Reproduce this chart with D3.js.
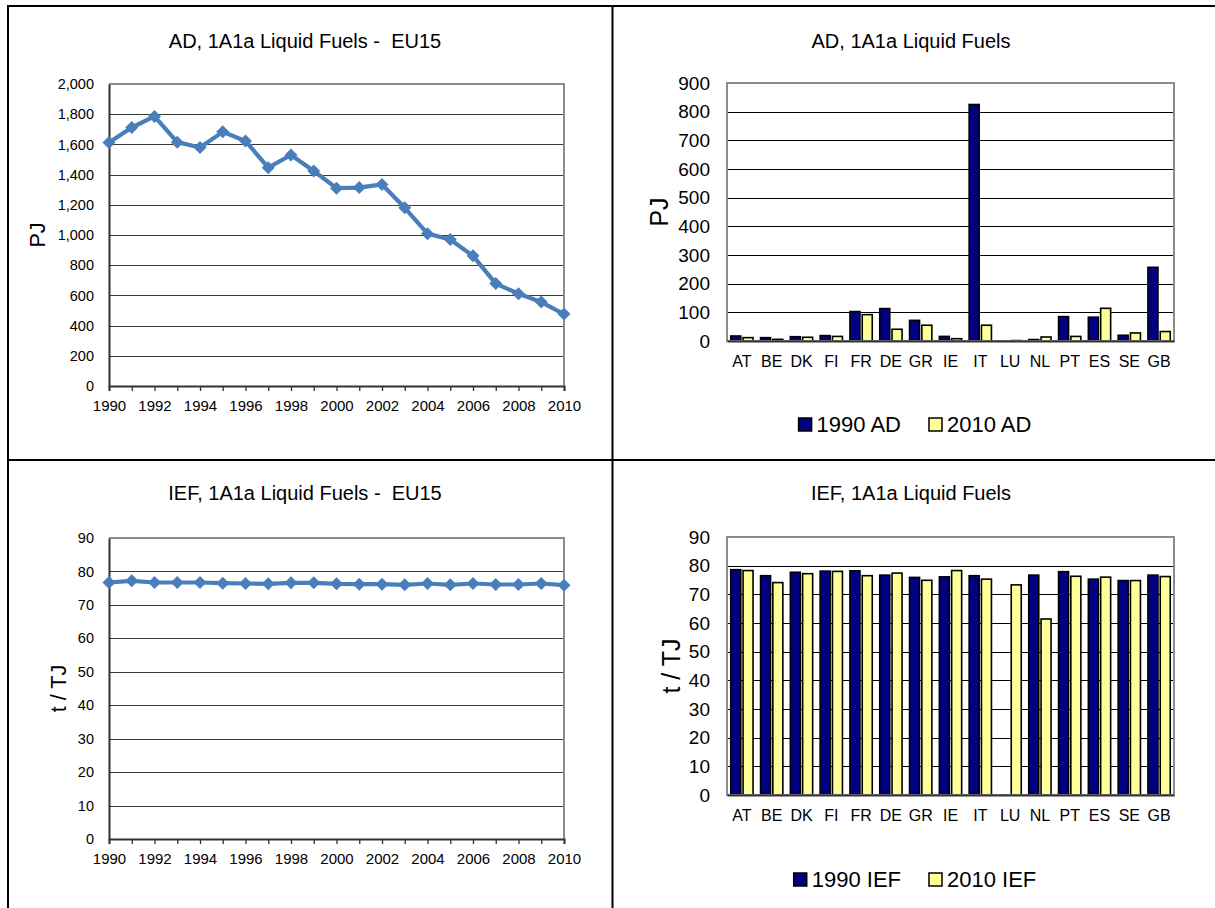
<!DOCTYPE html>
<html>
<head>
<meta charset="utf-8">
<script src="https://cdn.jsdelivr.net/npm/d3@7"></script>
<style>
  html, body { margin: 0; padding: 0; background: #fff; }
  svg { display: block; font-family: "Liberation Sans", Arial, sans-serif; }
</style>
</head>
<body>
<svg id="chart" width="1215" height="908"></svg>
<script>
// ---- Data -------------------------------------------------------------
const years = [1990, 1991, 1992, 1993, 1994, 1995, 1996, 1997, 1998, 1999, 2000,
               2001, 2002, 2003, 2004, 2005, 2006, 2007, 2008, 2009, 2010];

// EU15 activity data, 1A1a liquid fuels (PJ)
const adEu15 = [1612, 1712, 1785, 1615, 1579, 1683, 1623, 1446, 1530, 1424, 1310,
                1314, 1335, 1180, 1009, 970, 862, 678, 611, 556, 476];

// EU15 implied emission factor (t / TJ)
const iefEu15 = [76.7, 77.2, 76.7, 76.7, 76.7, 76.5, 76.4, 76.3, 76.6, 76.6, 76.3,
                 76.2, 76.2, 76.0, 76.4, 76.0, 76.4, 76.1, 76.1, 76.4, 75.9];

const countries = ["AT", "BE", "DK", "FI", "FR", "DE", "GR", "IE", "IT", "LU", "NL", "PT", "ES", "SE", "GB"];

// Member state activity data (PJ); null = not reported
const ad1990 = [17.5, 11.7, 15, 18.7, 102.7, 113, 72, 16, 825, null, 5, 85, 83, 20, 257];
const ad2010 = [11.7, 5.8, 13, 16, 92, 41, 55, 8, 55, 1.5, 14, 16, 114, 28, 33];

// Member state implied emission factors (t / TJ)
const ief1990 = [78.6, 76.5, 77.7, 78.1, 78.2, 76.7, 75.9, 76.1, 76.5, null, 76.7, 77.9, 75.3, 74.8, 76.7];
const ief2010 = [78.3, 74.1, 77.2, 78.0, 76.5, 77.4, 74.9, 78.3, 75.3, 73.3, 61.4, 76.3, 76.0, 74.8, 76.2];

const adTicks = [0, 200, 400, 600, 800, 1000, 1200, 1400, 1600, 1800, 2000];
const iefTicks = [0, 10, 20, 30, 40, 50, 60, 70, 80, 90];
const adBarTicks = [0, 100, 200, 300, 400, 500, 600, 700, 800, 900];

// ---- Styles -----------------------------------------------------------
const LINE_BLUE = "#4A7EBB";
const NAVY = "#000080";
const PALE_YELLOW = "#FFFF99";
const FRAME_GREY = "#8c8c8c";

const svg = d3.select("#chart");

// Table frame around the four panels
const frame = svg.append("g").attr("stroke", "#000").attr("stroke-width", 2);
frame.append("line").attr("x1", 8).attr("x2", 8).attr("y1", 5).attr("y2", 908);
frame.append("line").attr("x1", 7).attr("x2", 1215).attr("y1", 6).attr("y2", 6);
frame.append("line").attr("x1", 612.5).attr("x2", 612.5).attr("y1", 5).attr("y2", 908);
frame.append("line").attr("x1", 7).attr("x2", 1215).attr("y1", 460).attr("y2", 460);

function styleAxisText(axisG, size) {
  axisG.attr("font-family", null).attr("font-size", null);
  axisG.selectAll("text").attr("font-size", size).attr("fill", "#000");
}

function addTitle(g, text, cx, baseline) {
  g.append("text")
    .attr("x", cx).attr("y", baseline)
    .attr("text-anchor", "middle")
    .attr("font-size", 20)
    .attr("xml:space", "preserve")
    .style("white-space", "pre")
    .text(text);
}

function addAxisTitle(g, text, baselineX, cy, size) {
  g.append("text")
    .attr("transform", `translate(${baselineX},${cy}) rotate(-90)`)
    .attr("text-anchor", "middle")
    .attr("font-size", size)
    .text(text);
}

// ---- Line chart panel -------------------------------------------------
function drawLinePanel(cfg) {
  const { box, values, ticks, fmt } = cfg;
  const g = svg.append("g");
  const x = d3.scalePoint().domain(years).range([box.left, box.right]).padding(0);
  const y = d3.scaleLinear().domain([0, d3.max(ticks)]).range([box.bottom, box.top]);

  // horizontal gridlines
  g.append("g").selectAll("line")
    .data(ticks.filter(t => t > 0 && t < d3.max(ticks)))
    .join("line")
    .attr("x1", box.left).attr("x2", box.right)
    .attr("y1", d => Math.round(y(d)) + 0.5).attr("y2", d => Math.round(y(d)) + 0.5)
    .attr("stroke", "#3a3a3a").attr("stroke-width", 1);

  // plot area border (top and right)
  g.append("path")
    .attr("d", `M${box.left},${box.top}H${box.right}V${box.bottom}`)
    .attr("fill", "none").attr("stroke", FRAME_GREY).attr("stroke-width", 2);

  // y axis
  const ya = g.append("g")
    .attr("transform", `translate(${box.left},0)`)
    .call(d3.axisLeft(y).tickValues(ticks).tickSize(0).tickPadding(15).tickFormat(fmt));
  ya.select(".domain").attr("stroke", "#333").attr("stroke-width", 2);
  styleAxisText(ya, 14.5);

  // x axis, a tick every year, a label every second year
  const xa = g.append("g")
    .attr("transform", `translate(0,${box.bottom})`)
    .call(d3.axisBottom(x).tickSize(5).tickPadding(9)
      .tickFormat(d => (d % 2 === 0 ? String(d) : "")));
  xa.select(".domain").attr("stroke", "#333").attr("stroke-width", 2);
  xa.selectAll(".tick line").attr("stroke", "#333").attr("stroke-width", 1.3);
  styleAxisText(xa, 15);

  const pts = years.map((yr, i) => ({ yr, v: values[i] }));

  g.append("path")
    .datum(pts)
    .attr("fill", "none")
    .attr("stroke", LINE_BLUE)
    .attr("stroke-width", 4.2)
    .attr("stroke-linejoin", "round")
    .attr("d", d3.line().x(d => x(d.yr)).y(d => y(d.v)));

  const r = 6.5;
  g.append("g").selectAll("path")
    .data(pts)
    .join("path")
    .attr("transform", d => `translate(${x(d.yr)},${y(d.v)})`)
    .attr("d", `M0,${-r}L${r},0L0,${r}L${-r},0Z`)
    .attr("fill", LINE_BLUE);

  addTitle(g, cfg.title, cfg.titleX, cfg.titleY);
  addAxisTitle(g, cfg.axisTitle, cfg.axisTitleX, (box.top + box.bottom) / 2, 21.5);
}

// ---- Grouped bar panel ------------------------------------------------
function drawBarPanel(cfg) {
  const { box, ticks, series } = cfg;
  const g = svg.append("g");
  const x = d3.scaleBand().domain(countries).range([box.left, box.right]).padding(0);
  const xs = d3.scaleBand().domain(series.map(s => s.name))
    .range([0, x.bandwidth()]).paddingInner(0.186).paddingOuter(0.305);
  const y = d3.scaleLinear().domain([0, d3.max(ticks)]).range([box.bottom, box.top]);

  g.append("g").selectAll("line")
    .data(ticks.filter(t => t > 0 && t < d3.max(ticks)))
    .join("line")
    .attr("x1", box.left).attr("x2", box.right)
    .attr("y1", d => Math.round(y(d)) + 0.5).attr("y2", d => Math.round(y(d)) + 0.5)
    .attr("stroke", "#000").attr("stroke-width", 1);

  series.forEach(s => {
    const rows = countries.map((c, i) => ({ c, v: s.values[i] })).filter(d => d.v != null);
    g.append("g").selectAll("rect")
      .data(rows)
      .join("rect")
      .attr("x", d => x(d.c) + xs(s.name))
      .attr("width", xs.bandwidth())
      .attr("y", d => y(d.v))
      .attr("height", d => y(0) - y(d.v))
      .attr("fill", s.color)
      .attr("stroke", "#000")
      .attr("stroke-width", 1.6);
  });

  // plot area border (grey frame)
  g.append("rect")
    .attr("x", box.left).attr("y", box.top)
    .attr("width", box.right - box.left).attr("height", box.bottom - box.top)
    .attr("fill", "none").attr("stroke", FRAME_GREY).attr("stroke-width", 2);

  const ya = g.append("g")
    .attr("transform", `translate(${box.left},0)`)
    .call(d3.axisLeft(y).tickValues(ticks).tickSize(0).tickPadding(17));
  ya.select(".domain").remove();
  styleAxisText(ya, 19);

  const xa = g.append("g")
    .attr("transform", `translate(0,${box.bottom})`)
    .call(d3.axisBottom(x).tickSize(0).tickPadding(14.5));
  xa.select(".domain").attr("stroke", "#333").attr("stroke-width", 2);
  styleAxisText(xa, 16);

  addTitle(g, cfg.title, cfg.titleX, cfg.titleY);
  addAxisTitle(g, cfg.axisTitle, cfg.axisTitleX, (box.top + box.bottom) / 2, 25);

  // legend, centred under the plot
  const lg = g.append("g");
  const sq = 13, gapText = 5, gapItem = 28;
  let cursor = 0;
  series.forEach(s => {
    const item = lg.append("g").attr("transform", `translate(${cursor},0)`);
    item.append("rect")
      .attr("x", 0).attr("y", -sq - 1).attr("width", sq).attr("height", sq)
      .attr("fill", s.color).attr("stroke", "#000").attr("stroke-width", 1.5);
    const t = item.append("text")
      .attr("x", sq + gapText).attr("y", 0)
      .attr("font-size", 22)
      .text(s.label);
    cursor += sq + gapText + t.node().getComputedTextLength() + gapItem;
  });
  const total = cursor - gapItem;
  lg.attr("transform", `translate(${cfg.legendCx - total / 2},${cfg.legendBaseline})`);
}

const thousands = d3.format(",");

drawLinePanel({
  box: { left: 109, right: 564, top: 84, bottom: 386 },
  values: adEu15, ticks: adTicks, fmt: thousands,
  title: "AD, 1A1a Liquid Fuels -  EU15", titleX: 305, titleY: 48,
  axisTitle: "PJ", axisTitleX: 45
});

drawLinePanel({
  box: { left: 109, right: 564, top: 538, bottom: 839 },
  values: iefEu15, ticks: iefTicks, fmt: d3.format("d"),
  title: "IEF, 1A1a Liquid Fuels -  EU15", titleX: 305, titleY: 500,
  axisTitle: "t / TJ", axisTitleX: 66
});

drawBarPanel({
  box: { left: 727, right: 1174, top: 83, bottom: 341 },
  ticks: adBarTicks,
  series: [
    { name: "1990", label: "1990 AD", values: ad1990, color: NAVY },
    { name: "2010", label: "2010 AD", values: ad2010, color: PALE_YELLOW }
  ],
  title: "AD, 1A1a Liquid Fuels", titleX: 911, titleY: 48,
  axisTitle: "PJ", axisTitleX: 668,
  legendCx: 915, legendBaseline: 432
});

drawBarPanel({
  box: { left: 727, right: 1174, top: 537, bottom: 795 },
  ticks: iefTicks,
  series: [
    { name: "1990", label: "1990 IEF", values: ief1990, color: NAVY },
    { name: "2010", label: "2010 IEF", values: ief2010, color: PALE_YELLOW }
  ],
  title: "IEF, 1A1a Liquid Fuels", titleX: 911, titleY: 500,
  axisTitle: "t / TJ", axisTitleX: 680,
  legendCx: 915, legendBaseline: 887
});
</script>
</body>
</html>
